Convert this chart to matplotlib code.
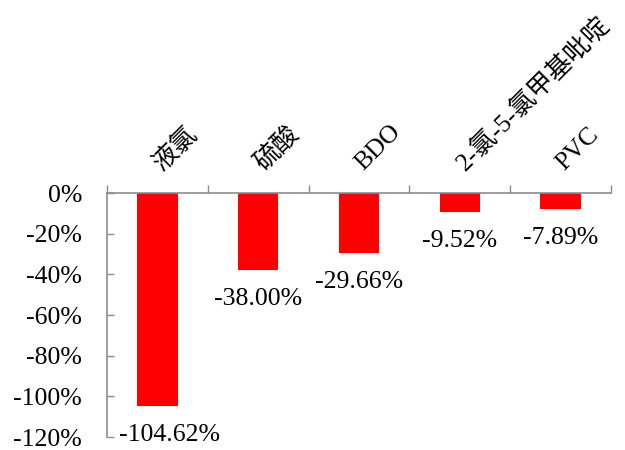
import matplotlib.pyplot as plt
import numpy as np
from matplotlib.ticker import FuncFormatter

# data
categories = ["液氯", "硫酸", "BDO", "2-氯-5-氯甲基吡啶", "PVC"]
values = [-104.62, -38.00, -29.66, -9.52, -7.89]
label_text = ["-104.62%", "-38.00%", "-29.66%", "-9.52%", "-7.89%"]

fonts = ["Liberation Serif", "Noto Sans CJK SC"]
plt.rcParams["font.family"] = fonts
grey = "#8c8c8c"
fs = 18.5

fig = plt.figure(figsize=(6.25, 4.5), dpi=100)
ax = fig.add_axes([107 / 625, 1 - 437 / 450, (611 - 107) / 625, (437 - 193) / 450])

x = np.arange(len(categories))
ax.bar(x, values, width=0.4, color="#ff0000", zorder=2)

# value labels under each bar (first one nudged right, clear of the axis)
for i, v in enumerate(values):
    dx = 9 if i == 0 else 0
    ax.annotate(label_text[i], (x[i], v), xytext=(dx, -13), textcoords="offset points",
                ha="center", va="top", fontsize=fs, annotation_clip=False)

# category names above the axis, rotated
for i, c in enumerate(categories):
    ax.annotate(c, (x[i] - 0.08, 0), xytext=(0, 13), textcoords="offset points",
                rotation=45, ha="left", va="bottom", fontsize=fs, family=fonts,
                annotation_clip=False)

ax.set_xlim(-0.5, len(categories) - 0.5)
ax.set_ylim(-120, 0)
ax.set_yticks(np.arange(-120, 1, 20))
ax.yaxis.set_major_formatter(FuncFormatter(lambda v, p: "%d%%" % v))

ax.xaxis.tick_top()
ax.set_xticks(np.arange(-0.5, len(categories), 1))
ax.set_xticklabels([])
ax.tick_params(axis="x", direction="out", length=6, width=1, color=grey)
ax.tick_params(axis="y", direction="in", length=5, width=1, color=grey,
               labelsize=fs, pad=18)

for s in ["bottom", "right"]:
    ax.spines[s].set_visible(False)
for s in ["top", "left"]:
    ax.spines[s].set_color(grey)
    ax.spines[s].set_linewidth(1.2)

fig.savefig("out.png", dpi=100)
